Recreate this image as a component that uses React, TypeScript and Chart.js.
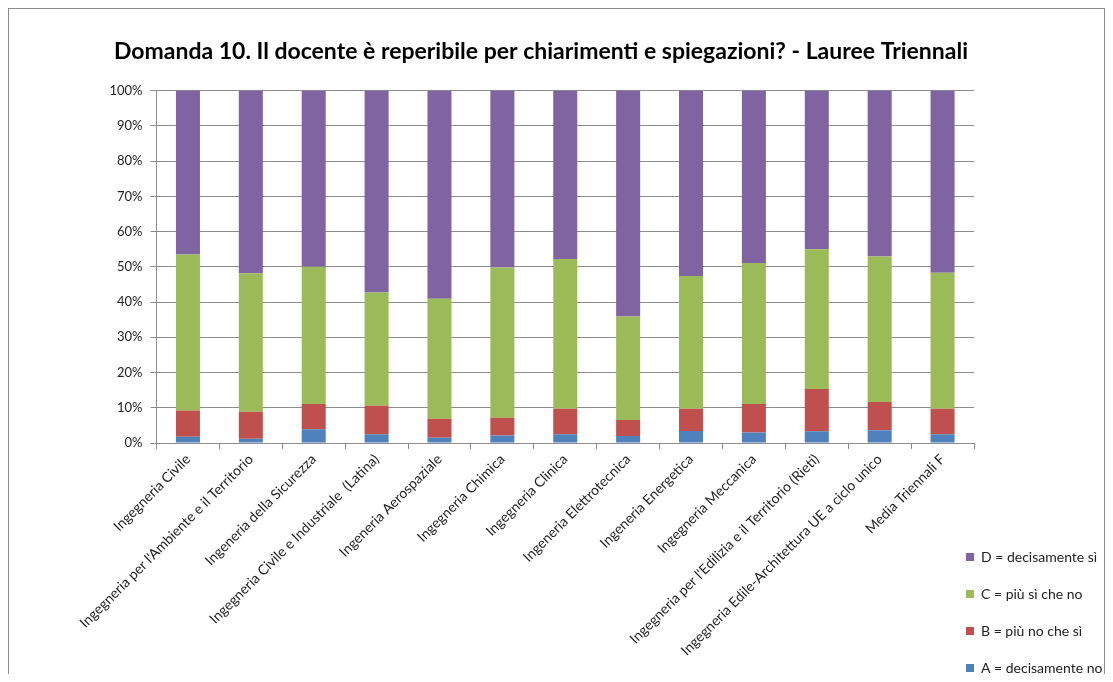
import React, { useEffect, useRef } from 'react';
import { Chart, registerables } from 'chart.js';

Chart.register(...registerables);

const titleText = 'Domanda 10. Il docente è reperibile per chiarimenti e spiegazioni? - Lauree Triennali';

const categories = [
  'Ingegneria Civile',
  "Ingegneria per l'Ambiente e il Territorio",
  'Ingeneria della Sicurezza',
  'Ingegneria Civile e Industriale  (Latina)',
  'Ingeneria Aerospaziale',
  'Ingegneria Chimica',
  'Ingegneria Clinica',
  'Ingeneria Elettrotecnica',
  'Ingeneria Energetica',
  'Ingegneria Meccanica',
  "Ingegneria per l'Edilizia e il Territorio (Rieti)",
  'Ingegneria Edile-Architettura UE a ciclo unico',
  'Media Triennali F',
];

const seriesNames = ['A = decisamente no', 'B = più no che sì', 'C = più sì che no', 'D = decisamente sì'];

const seriesA = [1.8, 1.2, 3.9, 2.5, 1.5, 2.1, 2.5, 2.0, 3.4, 3.0, 3.3, 3.6, 2.5];
const seriesB = [7.4, 7.7, 7.2, 8.1, 5.4, 5.1, 7.2, 4.5, 6.3, 8.1, 12.0, 8.0, 7.2];
const seriesC = [44.3, 39.3, 38.9, 32.1, 34.0, 42.6, 42.5, 29.4, 37.7, 40.0, 39.7, 41.3, 38.6];
const seriesD = [46.5, 51.8, 50.0, 57.3, 59.1, 50.2, 47.8, 64.1, 52.6, 48.9, 45.0, 47.1, 51.7];

const yTicks = [0, 10, 20, 30, 40, 50, 60, 70, 80, 90, 100];

const colors = ['#4F81BD', '#C0504D', '#9BBB59', '#8064A2'];

const CANVAS_W = 1095;
const CANVAS_H = 665;

const moveLegend = {
  id: 'moveLegend',
  afterLayout(chart: any) {
    const l = chart.legend;
    if (!l) return;
    const w = l.width;
    const h = l.height;
    l.left = 934;
    l.top = 518;
    l.right = l.left + w;
    l.bottom = l.top + h;
  },
};

export default function App() {
  const ref = useRef<HTMLCanvasElement>(null);

  useEffect(() => {
    if (!ref.current) return;
    Chart.defaults.font.family = 'Lato, "Open Sans", sans-serif';
    const gridColor = '#8c8c8c';
    const chart = new Chart(ref.current, {
      type: 'bar',
      data: {
        labels: categories,
        datasets: [seriesA, seriesB, seriesC, seriesD].map((d, i) => ({
          label: seriesNames[i],
          data: d,
          backgroundColor: colors[i],
          borderWidth: 0,
          categoryPercentage: 1,
          barPercentage: 0.382,
        })),
      },
      options: {
        responsive: false,
        animation: false,
        layout: { padding: { left: 0, right: 31, top: 0, bottom: 0 } },
        plugins: {
          title: {
            display: true,
            text: titleText,
            color: '#000',
            font: { size: 23, weight: 'bold' },
            padding: { top: 29, bottom: 25 },
          },
          legend: {
            position: 'chartArea',
            align: 'start',
            reverse: true,
            labels: {
              boxWidth: 8,
              boxHeight: 8,
              padding: 23,
              color: '#222',
              font: { size: 14 },
            },
          },
          tooltip: { enabled: false },
        },
        scales: {
          x: {
            stacked: true,
            grid: { display: true, drawOnChartArea: false, drawTicks: true, tickLength: 6, color: gridColor, offset: true },
            border: { display: true, color: gridColor },
            ticks: {
              autoSkip: false,
              maxRotation: 45,
              minRotation: 45,
              color: '#222',
              font: { size: 14 },
              padding: 2,
            },
            afterFit: (s: any) => {
              s.height = CANVAS_H - 434;
            },
          },
          y: {
            stacked: true,
            min: 0,
            max: 100,
            afterBuildTicks: (s: any) => {
              s.ticks = yTicks.map((v) => ({ value: v }));
            },
            grid: { color: gridColor, tickLength: 6 },
            border: { display: true, color: gridColor },
            ticks: {
              color: '#222',
              font: { size: 13 },
              padding: 8,
              callback: (v: any) => v + '%',
            },
            afterFit: (s: any) => {
              s.width = 147.5;
            },
          },
          y2: {
            position: 'right',
            display: true,
            grid: { display: false },
            border: { display: false },
            ticks: { display: false },
            afterFit: (s: any) => {
              s.width = CANVAS_W - 31 - 965;
            },
          },
        },
      },
      plugins: [moveLegend],
    });
    return () => chart.destroy();
  }, []);

  return (
    <div
      style={{
        width: CANVAS_W,
        height: CANVAS_H,
        border: '1px solid #8c8c8c',
        borderBottom: 'none',
        background: '#fff',
      }}
    >
      <canvas ref={ref} width={CANVAS_W} height={CANVAS_H} style={{ display: 'block' }} />
    </div>
  );
}
